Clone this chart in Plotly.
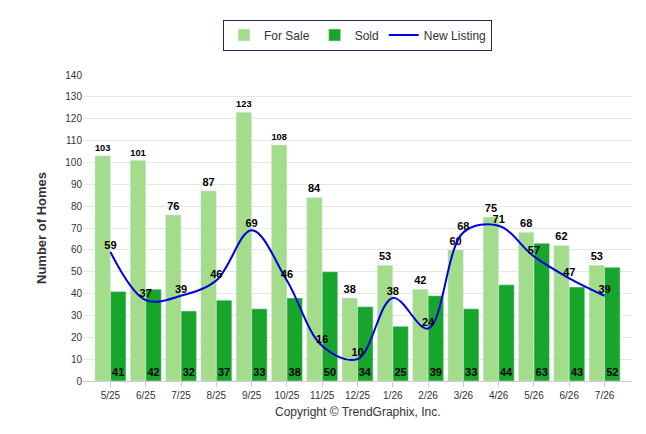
import plotly.graph_objects as go

months = ["5/25","6/25","7/25","8/25","9/25","10/25","11/25","12/25","1/26","2/26","3/26","4/26","5/26","6/26","7/26"]
for_sale = [103,101,76,87,123,108,84,38,53,42,60,75,68,62,53]
sold = [41,42,32,37,33,38,50,34,25,39,33,44,63,43,52]
new_listing = [59,37,39,46,69,46,16,10,38,24,68,71,57,47,39]

tf = dict(size=11, color="black", family="Arial, Liberation Sans")
fig = go.Figure()
fig.add_bar(x=months, y=for_sale, name="For Sale", marker_color="#a3dc8a",
            texttemplate="<b>%{y}</b>", textposition="outside", cliponaxis=False,
            textangle=0, textfont=tf)
fig.add_bar(x=months, y=sold, name="Sold", marker_color="#17a52b",
            texttemplate="<b>%{y}</b>", textposition="inside", insidetextanchor="start",
            textangle=0, constraintext="none", textfont=tf)
fig.add_scatter(x=months, y=new_listing, name="New Listing", mode="lines+text",
                line=dict(color="#0000dd", width=2, shape="spline"),
                texttemplate="<b>%{y}</b>", textposition="top center", textfont=tf)

fig.update_layout(
    width=646, height=434, barmode="group", bargap=0.12, bargroupgap=0.0,
    plot_bgcolor="white", paper_bgcolor="white",
    margin=dict(l=75, r=22, t=60, b=61),
    font=dict(family="Arial, Liberation Sans", size=10, color="#333"),
    legend=dict(orientation="h", x=0.5, xanchor="center", y=1.08, yanchor="bottom",
                bordercolor="#1a2a5a", borderwidth=1, font=dict(size=12)),
    yaxis=dict(range=[0,140], dtick=10, gridcolor="#e6e6e6", zeroline=False,
               title=dict(text="<b>Number of Homes</b>", font=dict(size=13, color="#333")),
               tickfont=dict(size=10)),
    xaxis=dict(showline=True, linecolor="#ccc", ticks="outside", tickcolor="#ccc",
               tickfont=dict(size=10)),
    annotations=[dict(text="Copyright © TrendGraphix, Inc.", x=0.5, y=-0.13,
                      xref="paper", yref="paper", showarrow=False,
                      font=dict(size=12, color="#333"))],
)
fig.write_html("out.html")
